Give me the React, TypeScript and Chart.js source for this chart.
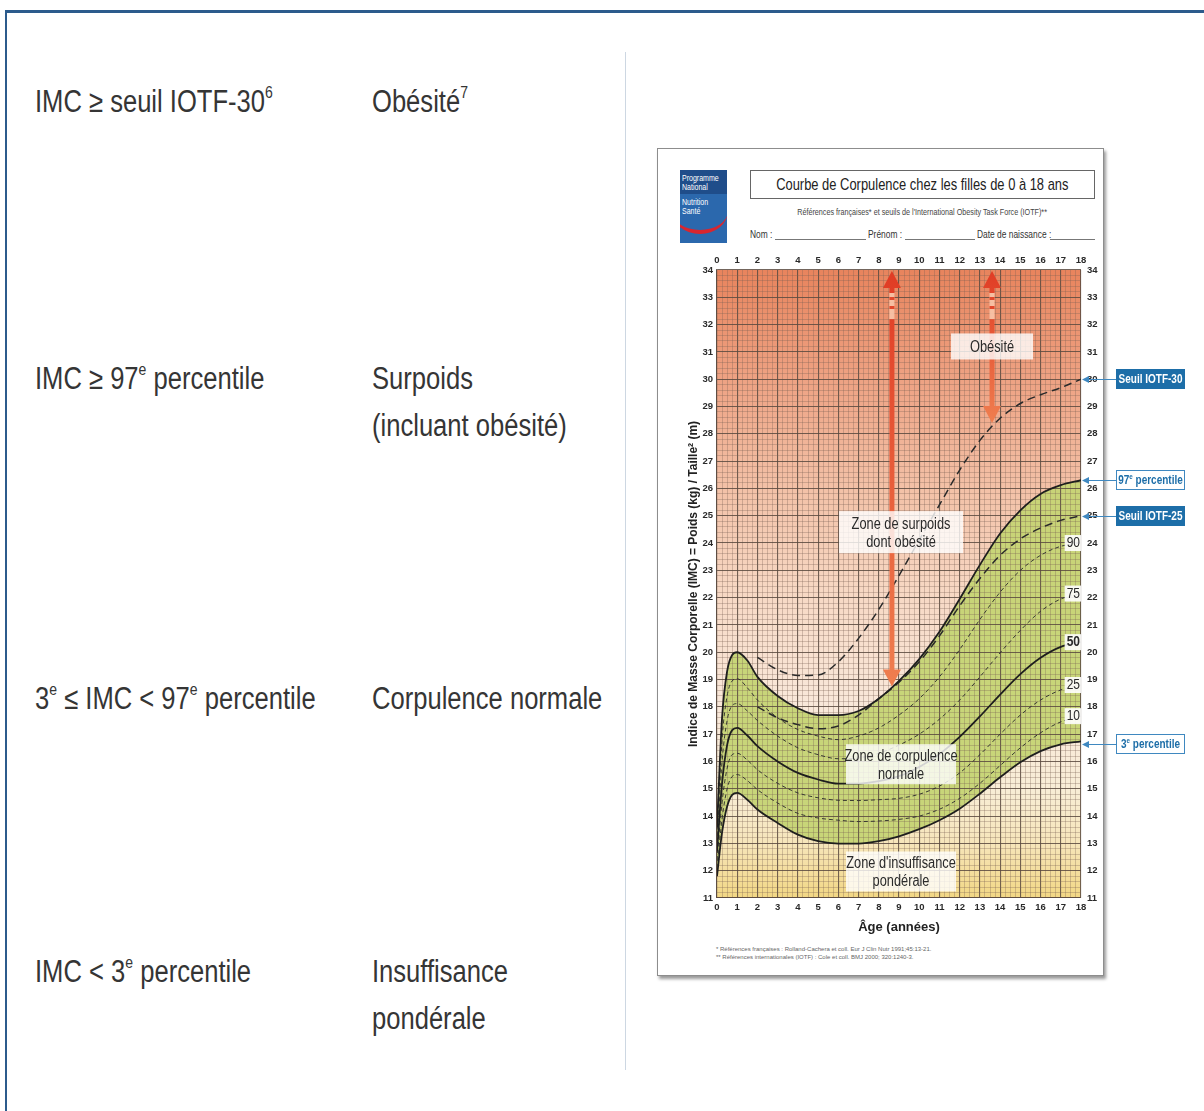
import React, { useEffect, useRef } from 'react';
import { Chart, registerables } from 'chart.js';

const SANS = "'Liberation Sans', Arial, sans-serif";
const COND = 0.8;

// ---------- data ----------
const AGES = [0, 0.25, 0.5, 0.75, 1, 1.5, 2, 3, 4, 5, 6, 7, 8, 9, 10, 11, 12, 13, 14, 15, 16, 17, 18];
const P97 = [13.6, 17.6, 19.3, 19.9, 20.0, 19.7, 19.1, 18.4, 17.95, 17.7, 17.7, 17.85, 18.3, 18.95, 19.75, 20.75, 21.95, 23.2, 24.35, 25.2, 25.8, 26.12, 26.3];
const P90 = [13.3, 16.8, 18.4, 18.95, 19.03, 18.7, 18.25, 17.6, 17.17, 16.93, 16.8, 16.93, 17.23, 17.7, 18.3, 19.1, 20.1, 21.2, 22.2, 23.0, 23.55, 23.88, 24.0];
const P75 = [13.0, 16.0, 17.5, 18.05, 18.12, 17.85, 17.5, 16.93, 16.5, 16.25, 16.1, 16.13, 16.3, 16.6, 17.0, 17.55, 18.25, 19.1, 19.98, 20.8, 21.5, 21.95, 22.15];
const P50 = [12.7, 15.2, 16.6, 17.15, 17.23, 16.95, 16.56, 16.0, 15.58, 15.34, 15.19, 15.19, 15.28, 15.46, 15.8, 16.27, 16.9, 17.65, 18.45, 19.2, 19.8, 20.2, 20.37];
const P25 = [12.4, 14.5, 15.75, 16.25, 16.3, 16.05, 15.7, 15.2, 14.85, 14.67, 14.58, 14.57, 14.6, 14.65, 14.8, 15.1, 15.58, 16.25, 17.0, 17.7, 18.25, 18.62, 18.8];
const P10 = [12.1, 13.9, 15.0, 15.45, 15.52, 15.3, 14.97, 14.48, 14.1, 13.93, 13.85, 13.8, 13.82, 13.88, 14.0, 14.25, 14.65, 15.2, 15.85, 16.5, 17.05, 17.45, 17.66];
const P3 = [11.8, 13.4, 14.35, 14.78, 14.85, 14.6, 14.24, 13.75, 13.32, 13.08, 12.99, 12.99, 13.08, 13.26, 13.52, 13.85, 14.27, 14.82, 15.42, 15.97, 16.38, 16.63, 16.74];
const IOTF_AGES = [2, 3, 4, 5, 6, 7, 8, 9, 10, 11, 12, 13, 14, 15, 16, 17, 18];
const IOTF25 = [18.0, 17.6, 17.35, 17.2, 17.3, 17.7, 18.3, 18.9, 19.65, 20.6, 21.7, 22.7, 23.55, 24.15, 24.55, 24.83, 25.0];
const IOTF30 = [19.81, 19.36, 19.15, 19.17, 19.65, 20.51, 21.57, 22.81, 24.11, 25.4, 26.67, 27.76, 28.57, 29.11, 29.43, 29.69, 30.0];

const X_MIN = 0;
const X_MAX = 18;
const Y_MIN = 11;
const Y_MAX = 34;

const CURVE_LABELS = ['90', '75', '50', '25', '10'];
const ZONE_TEXTS = [['Obésité'], ['Zone de surpoids', 'dont obésité'], ['Zone de corpulence', 'normale'], ["Zone d'insuffisance", 'pondérale']];
const ZONE_AGES = [13.6, 9.1, 9.1, 9.1];
const ZONE_VALUES = [31.2, 24.4, 15.9, 11.97];
const ARROW_AGES = [8.65, 13.6];
const ARROW_ENDS = [18.75, 28.4];

// ---------- styles ----------
const GREEN = 'rgba(197, 212, 116, 0.95)';
const BG_STOPS: [number, string][] = [
  [34, '#e8845d'], [30, '#eea283'], [26, '#f3c1a7'], [22, '#f7d9c5'],
  [18, '#f9e8da'], [15, '#f8edd6'], [13, '#f6e5ba'], [11, '#f2d784'],
];
const GRID_MAJOR = 'rgba(90, 74, 64, 0.85)';
const GRID_MINOR = 'rgba(120, 96, 84, 0.45)';
const ZONE_SIZES = [[82, 26], [124, 42], [110, 40], [110, 40]];

const isInt = (v: number) => Math.abs(v - Math.round(v)) < 1e-6;

const bgPlugin = {
  id: 'zoneBg',
  beforeDraw(chart: any) {
    const a = chart.chartArea;
    const y = chart.scales && chart.scales.y;
    if (!a || !y) return;
    const ctx = chart.ctx;
    const g = ctx.createLinearGradient(0, y.getPixelForValue(Y_MAX), 0, y.getPixelForValue(Y_MIN));
    BG_STOPS.forEach(([v, c]) => g.addColorStop((Y_MAX - v) / (Y_MAX - Y_MIN), c));
    ctx.save();
    ctx.fillStyle = g;
    ctx.fillRect(a.left, a.top, a.right - a.left, a.bottom - a.top);
    ctx.restore();
  },
};
// registered first so it is painted before the filler's green band
Chart.register(bgPlugin);
Chart.register(...registerables);

function fillCond(ctx: CanvasRenderingContext2D, text: string, x: number, y: number) {
  ctx.save();
  ctx.translate(x, y);
  ctx.scale(COND, 1);
  ctx.fillText(text, 0, 0);
  ctx.restore();
}

type Run = { t: string; sup?: boolean };
function runsWidth(ctx: CanvasRenderingContext2D, runs: Run[], size: number, weight: string) {
  let w = 0;
  runs.forEach((r) => {
    ctx.font = `${weight} ${r.sup ? size * 0.62 : size}px ${SANS}`;
    w += ctx.measureText(r.t).width;
  });
  return w * COND;
}
function drawRuns(ctx: CanvasRenderingContext2D, runs: Run[], x: number, y: number, size: number, weight: string) {
  ctx.save();
  ctx.translate(x, y);
  ctx.scale(COND, 1);
  let cx = 0;
  runs.forEach((r) => {
    ctx.font = `${weight} ${r.sup ? size * 0.62 : size}px ${SANS}`;
    ctx.fillText(r.t, cx, r.sup ? -size * 0.33 : 0);
    cx += ctx.measureText(r.t).width;
  });
  ctx.restore();
}

const overlayPlugin = {
  id: 'overlay',
  afterDatasetsDraw(chart: any) {
    const { ctx, chartArea: a, scales } = chart;
    const x = scales.x;
    const y = scales.y;
    ctx.save();

    // red double arrows
    ARROW_AGES.forEach((age, i) => {
      const px = x.getPixelForValue(age);
      const yTop = y.getPixelForValue(Y_MAX) + 1;
      const yBot = y.getPixelForValue(ARROW_ENDS[i]);
      const g = ctx.createLinearGradient(0, yTop, 0, yBot);
      g.addColorStop(0, '#e03c25');
      g.addColorStop(1, '#ef7e4f');
      const hw = 9;
      const hh = 17;
      const sw = 2.5;
      ctx.fillStyle = g;
      ctx.beginPath();
      ctx.moveTo(px, yTop);
      ctx.lineTo(px + hw, yTop + hh);
      ctx.lineTo(px - hw, yTop + hh);
      ctx.closePath();
      ctx.fill();
      ctx.beginPath();
      ctx.moveTo(px, yBot);
      ctx.lineTo(px + hw, yBot - hh);
      ctx.lineTo(px - hw, yBot - hh);
      ctx.closePath();
      ctx.fill();
      const dashTop = yTop + hh + 5;
      const dashBot = y.getPixelForValue(32.2);
      ctx.fillStyle = 'rgba(248, 196, 168, 0.9)';
      ctx.fillRect(px - sw, dashTop, sw * 2, dashBot - dashTop);
      ctx.fillStyle = '#e2482c';
      for (let d = dashTop + 4; d < dashBot - 5; d += 9) ctx.fillRect(px - sw, d, sw * 2, 3);
      ctx.fillStyle = g;
      ctx.fillRect(px - sw, dashBot, sw * 2, yBot - hh - dashBot + 1);
      ctx.fillRect(px - sw, yTop + hh - 1, sw * 2, dashTop - (yTop + hh) + 1);
    });

    // zone labels in white boxes
    ZONE_TEXTS.forEach((lines, i) => {
      const cx = x.getPixelForValue(ZONE_AGES[i]);
      const cy = y.getPixelForValue(ZONE_VALUES[i]);
      const [w, h] = ZONE_SIZES[i];
      ctx.fillStyle = 'rgba(255, 255, 255, 0.8)';
      ctx.fillRect(cx - w / 2, cy - h / 2, w, h);
      ctx.fillStyle = '#2a2a2a';
      ctx.font = `16px ${SANS}`;
      ctx.textAlign = 'center';
      ctx.textBaseline = 'middle';
      const lh = 18;
      lines.forEach((t, j) => fillCond(ctx, t, cx, cy + (j - (lines.length - 1) / 2) * lh + 1));
    });

    // percentile numbers at the right end
    const curveSets = [P90, P75, P50, P25, P10];
    curveSets.forEach((arr, i) => {
      const py = y.getPixelForValue(arr[arr.length - 1]);
      const bold = CURVE_LABELS[i] === '50';
      ctx.font = `${bold ? 'bold ' : ''}15px ${SANS}`;
      const tw = ctx.measureText(CURVE_LABELS[i]).width * COND;
      ctx.fillStyle = 'rgba(255,255,255,0.9)';
      ctx.fillRect(a.right - tw - 3, py - 8, tw + 3, 16);
      ctx.fillStyle = '#2a2a2a';
      ctx.textAlign = 'right';
      ctx.textBaseline = 'middle';
      fillCond(ctx, CURVE_LABELS[i], a.right - 1, py);
    });
    ctx.restore();
  },
  afterDraw(chart: any) {
    const { ctx, chartArea: a, scales } = chart;
    const y = scales.y;
    const callouts = [
      { runs: [{ t: 'Seuil IOTF-30' }], value: IOTF30[IOTF30.length - 1], filled: true },
      { runs: [{ t: '97' }, { t: 'e', sup: true }, { t: ' percentile' }], value: P97[P97.length - 1], filled: false },
      { runs: [{ t: 'Seuil IOTF-25' }], value: IOTF25[IOTF25.length - 1], filled: true },
      { runs: [{ t: '3' }, { t: 'e', sup: true }, { t: ' percentile' }], value: P3[P3.length - 1] - 0.1, filled: false },
    ];
    ctx.save();
    callouts.forEach((c) => {
      const py = Math.round(y.getPixelForValue(c.value));
      const bx = a.right + 35;
      const bw = 69;
      const bh = 20;
      ctx.strokeStyle = '#3f88c0';
      ctx.lineWidth = 1;
      ctx.beginPath();
      ctx.moveTo(a.right + 6, py + 0.5);
      ctx.lineTo(bx, py + 0.5);
      ctx.stroke();
      ctx.fillStyle = '#3f88c0';
      ctx.beginPath();
      ctx.moveTo(a.right + 1, py + 0.5);
      ctx.lineTo(a.right + 8, py - 3);
      ctx.lineTo(a.right + 8, py + 4);
      ctx.closePath();
      ctx.fill();
      if (c.filled) {
        ctx.fillStyle = '#1d6ea8';
        ctx.fillRect(bx, py - bh / 2, bw, bh);
      } else {
        ctx.fillStyle = '#ffffff';
        ctx.fillRect(bx, py - bh / 2, bw, bh);
        ctx.strokeStyle = '#3f88c0';
        ctx.strokeRect(bx + 0.5, py - bh / 2 + 0.5, bw - 1, bh - 1);
      }
      ctx.fillStyle = c.filled ? '#ffffff' : '#1d6ea8';
      ctx.textAlign = 'left';
      ctx.textBaseline = 'middle';
      const tw = runsWidth(ctx, c.runs, 12.5, 'bold');
      drawRuns(ctx, c.runs, bx + (bw - tw) / 2, py + 1, 12.5, 'bold');
    });
    ctx.restore();
  },
};

function pts(ages: number[], vals: number[]) {
  return ages.map((a, i) => ({ x: a, y: vals[i] }));
}

function BmiChart() {
  const ref = useRef<HTMLCanvasElement | null>(null);
  useEffect(() => {
    if (!ref.current) return;
    const solid = { borderColor: '#1e1e1e', borderWidth: 1.8, borderDash: [] as number[] };
    const thin = { borderColor: '#2a2a2a', borderWidth: 0.9, borderDash: [4, 3] };
    const iotf = { borderColor: '#2a2a2a', borderWidth: 1.5, borderDash: [8, 5] };
    const common = { pointRadius: 0, cubicInterpolationMode: 'monotone' as const, fill: false as any };
    const tickFont = { family: SANS, size: 9.5, weight: 'bold' as const };
    const tickCb = (v: any) => (isInt(Number(v)) ? String(Math.round(Number(v))) : '');
    const gridColor = (c: any) => (c.tick && isInt(c.tick.value) ? GRID_MAJOR : GRID_MINOR);
    const gridWidth = (c: any) => (c.tick && isInt(c.tick.value) ? 1.1 : 0.7);
    const chart = new Chart(ref.current, {
      type: 'line',
      data: {
        datasets: [
          { ...common, ...solid, label: 'P97', data: pts(AGES, P97), fill: { target: 6, above: GREEN, below: GREEN } },
          { ...common, ...thin, label: 'P90', data: pts(AGES, P90) },
          { ...common, ...thin, label: 'P75', data: pts(AGES, P75) },
          { ...common, ...solid, label: 'P50', data: pts(AGES, P50) },
          { ...common, ...thin, label: 'P25', data: pts(AGES, P25) },
          { ...common, ...thin, label: 'P10', data: pts(AGES, P10) },
          { ...common, ...solid, label: 'P3', data: pts(AGES, P3) },
          { ...common, ...iotf, label: 'IOTF-25', data: pts(IOTF_AGES, IOTF25) },
          { ...common, ...iotf, label: 'IOTF-30', data: pts(IOTF_AGES, IOTF30) },
        ],
      },
      options: {
        animation: false,
        responsive: false,
        events: [],
        layout: { padding: 0 },
        plugins: {
          legend: { display: false },
          tooltip: { enabled: false },
          filler: { drawTime: 'beforeDraw', propagate: false },
        } as any,
        scales: {
          x: {
            type: 'linear', position: 'bottom', min: X_MIN, max: X_MAX,
            ticks: { stepSize: 0.25, autoSkip: false, maxRotation: 0, callback: tickCb, font: tickFont, color: '#2a2a2a', padding: 4 },
            grid: { color: gridColor, lineWidth: gridWidth, drawTicks: false },
            border: { display: true, color: GRID_MAJOR, width: 1.1 },
            title: { display: true, text: 'Âge (années)', font: { family: SANS, size: 13, weight: 'bold' }, color: '#222', padding: { top: 0, bottom: 13 } },
            afterFit: (s: any) => { s.height = 50; },
          },
          x2: {
            type: 'linear', position: 'top', min: X_MIN, max: X_MAX,
            ticks: { stepSize: 0.25, autoSkip: false, maxRotation: 0, callback: tickCb, font: tickFont, color: '#2a2a2a', padding: 4 },
            grid: { display: false, drawTicks: false },
            border: { display: false },
            afterFit: (s: any) => { s.height = 30; },
          },
          y: {
            type: 'linear', position: 'left', min: Y_MIN, max: Y_MAX,
            ticks: { stepSize: 0.2, autoSkip: false, callback: tickCb, font: tickFont, color: '#2a2a2a', padding: 4 },
            grid: { color: gridColor, lineWidth: gridWidth, drawTicks: false },
            border: { display: true, color: GRID_MAJOR, width: 1.1 },
            title: { display: true, text: 'Indice de Masse Corporelle (IMC) = Poids (kg) / Taille² (m)', font: { family: SANS, size: 12, weight: 'bold' }, color: '#222', padding: { top: 6, bottom: 0 } },
            afterFit: (s: any) => { s.width = 37; },
          },
          y2: {
            type: 'linear', position: 'right', min: Y_MIN, max: Y_MAX,
            ticks: { stepSize: 0.2, autoSkip: false, callback: tickCb, font: tickFont, color: '#2a2a2a', padding: 6 },
            grid: { display: false, drawTicks: false },
            border: { display: false },
            afterFit: (s: any) => { s.width = 119; },
          },
        },
      } as any,
      plugins: [overlayPlugin],
    });
    return () => chart.destroy();
  }, []);
  return <canvas ref={ref} width={520} height={708} style={{ position: 'absolute', left: 680, top: 240, width: 520, height: 708 }} />;
}

const leftText: React.CSSProperties = {
  position: 'absolute',
  fontFamily: SANS,
  fontSize: 31,
  lineHeight: '31px',
  color: '#353535',
  whiteSpace: 'nowrap',
  transform: 'scaleX(0.825)',
  transformOrigin: 'left center',
};
const sup: React.CSSProperties = { fontSize: '0.55em', position: 'relative', top: '-0.8em' };

function Line({ x, y, children }: { x: number; y: number; children: React.ReactNode }) {
  return <div style={{ ...leftText, left: x, top: y - 15 }}>{children}</div>;
}

function Centered({ left, top, width, height, s, style, children }: { left: number; top: number; width: number; height: number; s: number; style: React.CSSProperties; children: React.ReactNode }) {
  return (
    <div style={{ position: 'absolute', left, top, width, height, display: 'flex', justifyContent: 'center', alignItems: 'center', ...style }}>
      <span style={{ display: 'inline-block', flex: 'none', whiteSpace: 'nowrap', transform: `scaleX(${s})`, transformOrigin: 'center' }}>{children}</span>
    </div>
  );
}

function Label({ left, top, size, children }: { left: number; top: number; size: number; children: React.ReactNode }) {
  return (
    <div style={{ position: 'absolute', left, top, fontFamily: SANS, fontSize: size, lineHeight: `${size + 2}px`, color: '#333', whiteSpace: 'nowrap', transform: 'scaleX(0.8)', transformOrigin: 'left center' }}>
      {children}
    </div>
  );
}

export default function App() {
  const rule = (left: number, width: number): React.CSSProperties => ({ position: 'absolute', left, top: 239, width, height: 1, background: '#777' });
  return (
    <div style={{ position: 'absolute', left: 0, top: 0, width: 1204, height: 1111, background: '#fff', overflow: 'hidden' }}>
      {/* frame */}
      <div style={{ position: 'absolute', left: 5, top: 10, width: 1199, height: 3, background: '#2c5b8c' }} />
      <div style={{ position: 'absolute', left: 5, top: 10, width: 2, height: 1101, background: '#2c5b8c' }} />
      {/* left column */}
      <Line x={35} y={101}>IMC ≥ seuil IOTF-30<span style={sup}>6</span></Line>
      <Line x={372} y={101}>Obésité<span style={sup}>7</span></Line>
      <Line x={35} y={378}>IMC ≥ 97<span style={sup}>e</span> percentile</Line>
      <Line x={372} y={378}>Surpoids</Line>
      <Line x={372} y={425}>(incluant obésité)</Line>
      <Line x={35} y={698}>3<span style={sup}>e</span> ≤ IMC &lt; 97<span style={sup}>e</span> percentile</Line>
      <Line x={372} y={698}>Corpulence normale</Line>
      <Line x={35} y={971}>IMC &lt; 3<span style={sup}>e</span> percentile</Line>
      <Line x={372} y={971}>Insuffisance</Line>
      <Line x={372} y={1018}>pondérale</Line>
      {/* separator */}
      <div style={{ position: 'absolute', left: 625, top: 52, width: 1, height: 1018, background: '#cdd7e2' }} />
      {/* chart sheet */}
      <div style={{ position: 'absolute', left: 657, top: 148, width: 445, height: 826, background: '#fff', border: '1px solid #8d8d8d', boxShadow: '2px 3px 3px rgba(0,0,0,0.4)' }} />
      {/* logo */}
      <div style={{ position: 'absolute', left: 680, top: 170, width: 47, height: 73, background: '#1f4d8a', overflow: 'hidden', fontFamily: SANS, color: '#fff', fontSize: 9, lineHeight: '9px' }}>
        <div style={{ position: 'absolute', left: 0, top: 24, width: 47, height: 49, background: '#2b68ad' }} />
        <div style={{ position: 'absolute', left: 2, top: 4, transform: 'scaleX(0.78)', transformOrigin: 'left top', whiteSpace: 'nowrap' }}>Programme<br />National</div>
        <div style={{ position: 'absolute', left: 2, top: 28, transform: 'scaleX(0.78)', transformOrigin: 'left top', whiteSpace: 'nowrap' }}>Nutrition<br />Santé</div>
        <div style={{ position: 'absolute', left: -8, top: 18, width: 56, height: 42, borderBottom: '4px solid #d8262f', borderRadius: '0 0 50% 50%' }} />
      </div>
      {/* title box */}
      <div style={{ position: 'absolute', left: 750, top: 170, width: 343, height: 27, border: '1px solid #666' }} />
      <Centered left={750} top={170} width={345} height={29} s={0.76} style={{ fontFamily: SANS, fontSize: 17, color: '#222' }}>
        Courbe de Corpulence chez les filles de 0 à 18 ans
      </Centered>
      <Centered left={750} top={206} width={345} height={12} s={0.8} style={{ fontFamily: SANS, fontSize: 9, color: '#444' }}>
        Références françaises* et seuils de l'International Obesity Task Force (IOTF)**
      </Centered>
      {/* Nom / Prénom / Date line */}
      <Label left={750} top={228} size={10.5}>Nom :</Label>
      <div style={rule(775, 91)} />
      <Label left={868} top={228} size={10.5}>Prénom :</Label>
      <div style={rule(905, 70)} />
      <Label left={977} top={228} size={10.5}>Date de naissance :</Label>
      <div style={rule(1050, 45)} />
      {/* footnotes */}
      <div style={{ position: 'absolute', left: 716, top: 945, fontFamily: SANS, fontSize: 6, lineHeight: '8px', color: '#666', whiteSpace: 'nowrap' }}>
        * Références françaises : Rolland-Cachera et coll. Eur J Clin Nutr 1991;45:13-21.<br />
        ** Références internationales (IOTF) : Cole et coll. BMJ 2000; 320:1240-3.
      </div>
      <BmiChart />
    </div>
  );
}
